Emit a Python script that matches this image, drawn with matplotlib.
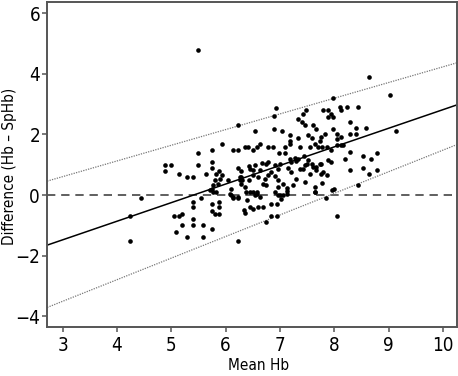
import matplotlib
matplotlib.use("Agg")
import matplotlib.pyplot as plt

plt.rcParams['font.family'] = ['DejaVu Sans']
plt.rcParams['font.stretch'] = 'condensed'

# Mean Hb / Difference (Hb - SpHb)
mean_hb = [
    4.24, 4.24, 4.44, 4.88, 4.99, 4.88, 5.14, 5.29, 5.39, 5.49,
    5.49, 5.49, 5.63, 5.74, 5.74, 5.74, 5.94, 5.88, 5.83, 6.14,
    6.23, 6.23, 6.23, 6.29, 5.04, 5.14, 5.19, 5.09, 5.19, 5.29,
    5.39, 5.39, 5.39, 5.39, 5.55, 5.59, 5.59, 5.74, 5.74, 5.74,
    5.80, 5.88, 5.88, 5.88, 5.71, 5.77, 5.83, 5.74, 5.77, 5.86,
    5.80, 5.90, 5.93, 6.05, 6.26, 6.29, 6.10, 6.10, 6.14, 6.23,
    6.34, 6.23,
    7.98, 6.92, 6.89, 7.47, 7.43, 7.79, 7.89, 7.94, 7.98, 7.89,
    7.33, 7.40, 7.46, 7.61, 7.67, 6.54, 6.89, 7.04, 7.18, 7.18,
    7.33, 7.52, 7.58, 7.83, 7.76, 7.73, 7.98, 8.04, 8.04, 6.63,
    6.57, 6.51, 6.35, 6.41, 6.78, 6.87, 7.09, 7.19, 6.98, 7.37,
    7.55, 7.64, 7.69, 7.78, 7.86, 7.94, 8.04, 7.09, 7.18, 7.27,
    7.33, 7.45, 6.75, 6.66, 6.54, 6.91, 7.00, 7.21, 7.30, 7.52,
    7.58, 7.76, 7.89, 7.94, 6.45, 6.51, 6.63, 6.97, 7.15, 7.43,
    7.46, 7.67, 7.79,
    8.63, 9.03, 8.24, 8.43, 8.13, 8.10, 8.29, 8.39, 8.58, 9.14,
    8.29, 8.39, 8.13, 8.12, 8.16, 8.29, 8.53, 8.68, 8.78, 8.19,
    8.29, 8.53, 8.63, 8.79, 8.43, 7.99,
    8.04, 7.84, 7.64, 7.78, 6.74, 6.83, 6.94, 6.83, 6.94, 6.69,
    6.60, 6.35, 6.45, 6.51, 6.63, 6.54, 6.38, 6.45, 6.57, 6.97,
    7.06, 7.12, 7.02,
    6.42, 6.78, 6.26, 6.30, 6.29, 6.35, 6.51, 6.60, 6.42, 6.72,
    6.78, 6.84, 6.91, 6.97, 6.69, 6.75, 6.97, 7.06, 7.12, 6.91,
    7.00, 7.12, 7.24, 7.30, 7.21, 7.46, 7.64, 7.37, 7.49, 7.61,
    7.73, 7.67, 7.55, 7.76, 7.86, 6.51, 6.57, 6.08, 6.14, 6.23,
    7.64, 7.95, 6.39,
]
difference = [
    -0.70, -1.51, -0.10, 1.00, 1.00, 0.78, 0.69, 0.61, 0.61, 1.39,
    1.00, 4.80, 0.69, 1.49, 1.09, 0.90, 1.68, 0.78, 0.69, 1.50,
    1.50, 2.30, 0.90, 0.78, -0.70, -0.70, -0.61, -1.21, -1.00, -1.40,
    -0.22, -0.41, -0.80, -1.00, -0.11, -1.00, -1.40, -1.11, -0.31, -0.52,
    -0.61, -0.22, -0.41, -0.61, 0.17, 0.11, 0.09, 0.19, 0.32, 0.38,
    0.49, 0.52, 0.65, 0.49, 0.49, 0.59, 0.19, 0.01, -0.10, -0.10,
    -0.50, -1.52,
    3.20, 2.89, 2.60, 2.80, 2.69, 2.80, 2.80, 2.69, 2.58, 2.58,
    2.52, 2.41, 2.30, 2.32, 2.19, 2.10, 2.19, 2.10, 1.97, 1.80,
    1.89, 1.99, 1.89, 2.03, 1.91, 1.80, 2.19, 2.03, 1.86, 1.70,
    1.58, 1.50, 1.58, 1.58, 1.58, 1.58, 1.58, 1.70, 1.40, 1.58,
    1.58, 1.70, 1.58, 1.58, 1.58, 1.48, 1.64, 1.39, 1.20, 1.22,
    1.20, 1.29, 1.04, 1.07, 0.98, 0.98, 1.04, 1.09, 1.11, 1.15,
    1.04, 1.04, 1.15, 1.09, 0.87, 0.82, 0.82, 0.87, 0.89, 0.87,
    0.98, 0.92, 0.76,
    3.89, 3.31, 2.90, 2.90, 2.80, 2.90, 2.41, 2.21, 2.21, 2.11,
    2.00, 2.00, 1.91, 1.64, 1.64, 1.42, 1.28, 1.20, 1.39, 1.20,
    0.82, 0.90, 0.71, 0.82, 0.32, 0.21,
    -0.70, -0.10, 0.10, 0.41, -0.89, -0.70, -0.70, -0.31, -0.31, -0.40,
    -0.40, -0.58, -0.40, -0.45, -0.07, -0.01, 0.10, 0.10, 0.10, 0.00,
    0.00, 0.12, -0.12,
    0.95, 1.09, 0.59, 0.49, 0.35, 0.26, 0.65, 0.59, 0.51, 0.54,
    0.65, 0.76, 0.62, 0.49, 0.38, 0.32, 0.26, 0.38, 0.24, 0.10,
    -0.01, 0.05, 0.32, 0.54, 0.76, 0.43, 0.26, 0.87, 1.04, 0.92,
    1.04, 0.82, 0.71, 0.71, 0.65, 0.10, 0.05, 0.05, -0.07, -0.07,
    0.10, 0.16, -0.15,
]

# fitted lines: (intercept, slope)
regression = (-3.32, 0.614)
upper_limit = (-0.946, 0.518)
lower_limit = (-5.646, 0.713)

fig = plt.figure(figsize=(4.58, 3.76), dpi=100)
ax = fig.add_axes([0.103, 0.130, 0.894, 0.866])

ax.axhline(0, color='#444444', lw=1.2, ls=(0, (5, 3.5)), zorder=1)
ax.axline((0, regression[0]), slope=regression[1], color='black', lw=1.1, zorder=2)
for b, m in [upper_limit, lower_limit]:
    ax.axline((0, b), slope=m, color='#777777', lw=0.9, ls=(0, (1, 1)), zorder=2)

ax.scatter(mean_hb, difference, s=11, color='black', linewidths=0, zorder=3)

ax.set_xlim(2.715, 10.25)
ax.set_ylim(-4.36, 6.39)
ax.set_xticks(range(3, 11))
ax.set_yticks([-4, -2, 0, 2, 4, 6])
ax.set_yticklabels(['\u22124', '\u22122', '0', '2', '4', '6'])

for s in ax.spines.values():
    s.set_color('#555555')
    s.set_linewidth(1.4)
ax.tick_params(direction='out', length=3.6, width=1.1, color='#555555', labelsize=13.5)
ax.tick_params(axis='x', pad=3)
ax.tick_params(axis='y', pad=1.5)

ax.set_xlabel('Mean Hb', fontsize=11)
ax.set_ylabel('Difference (Hb \u2013 SpHb)', fontsize=11)
ax.xaxis.set_label_coords(0.517, -0.117)
ax.xaxis.label.set_va('center')
ax.yaxis.set_label_coords(-0.093, 0.494)
ax.yaxis.label.set_va('center')

fig.savefig('out.png', dpi=100)
